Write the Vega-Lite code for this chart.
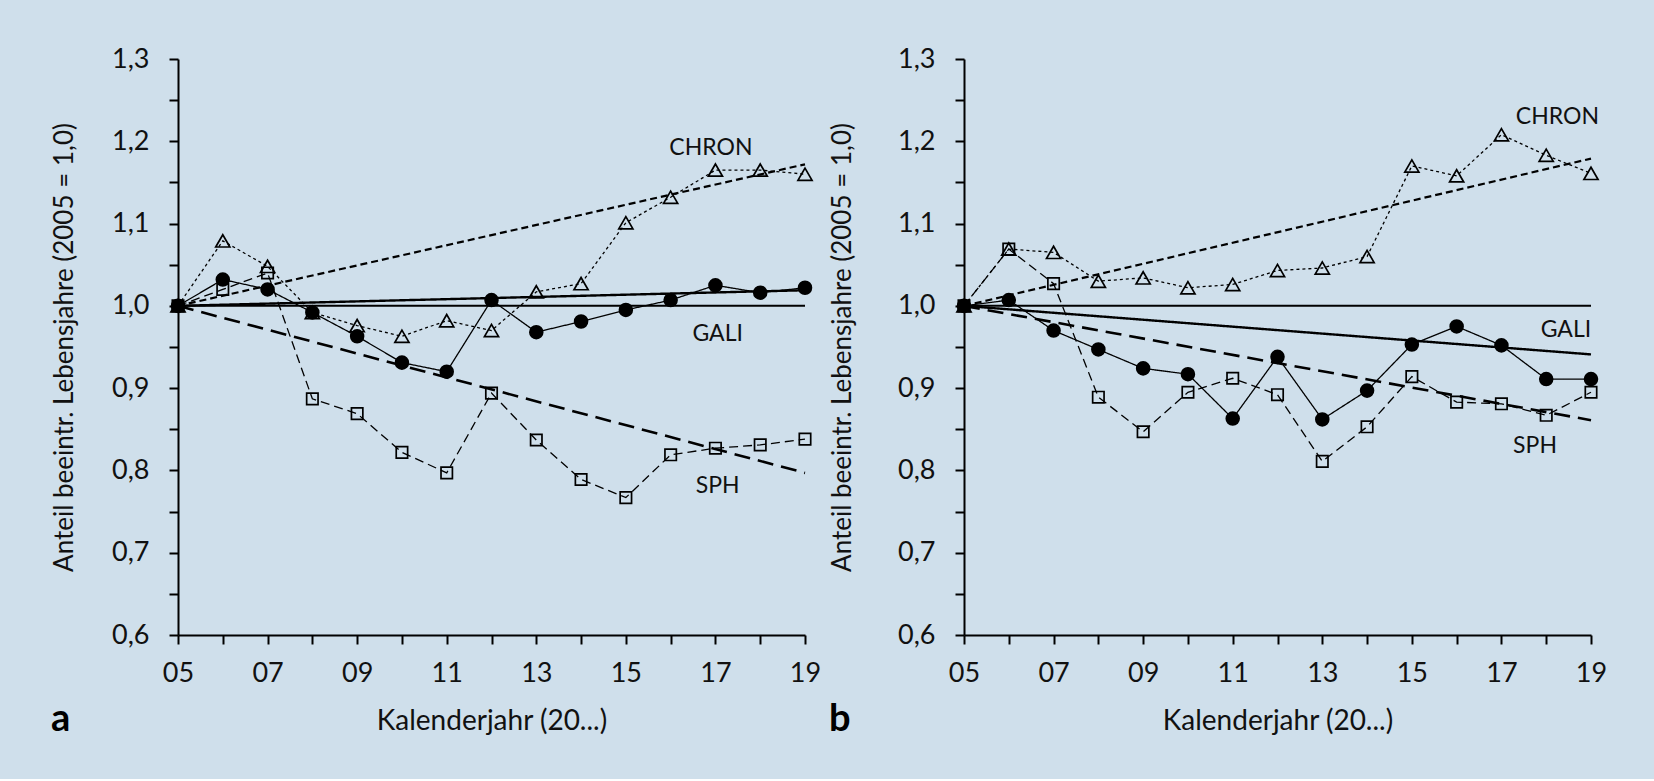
{
  "$schema": "https://vega.github.io/schema/vega-lite/v6.json",
  "background": "#cfdfeb",
  "padding": {"left": 51, "top": 45, "right": 48, "bottom": 40},
  "spacing": 8,
  "datasets": {
    "obs": [
      {"panel": "a", "serie": "GALI", "year": 5, "value": 1.0},
      {"panel": "a", "serie": "GALI", "year": 6, "value": 1.032},
      {"panel": "a", "serie": "GALI", "year": 7, "value": 1.02},
      {"panel": "a", "serie": "GALI", "year": 8, "value": 0.992},
      {"panel": "a", "serie": "GALI", "year": 9, "value": 0.963},
      {"panel": "a", "serie": "GALI", "year": 10, "value": 0.931},
      {"panel": "a", "serie": "GALI", "year": 11, "value": 0.92},
      {"panel": "a", "serie": "GALI", "year": 12, "value": 1.007},
      {"panel": "a", "serie": "GALI", "year": 13, "value": 0.968},
      {"panel": "a", "serie": "GALI", "year": 14, "value": 0.981},
      {"panel": "a", "serie": "GALI", "year": 15, "value": 0.995},
      {"panel": "a", "serie": "GALI", "year": 16, "value": 1.007},
      {"panel": "a", "serie": "GALI", "year": 17, "value": 1.025},
      {"panel": "a", "serie": "GALI", "year": 18, "value": 1.016},
      {"panel": "a", "serie": "GALI", "year": 19, "value": 1.022},
      {"panel": "a", "serie": "CHRON", "year": 5, "value": 1.0},
      {"panel": "a", "serie": "CHRON", "year": 6, "value": 1.079},
      {"panel": "a", "serie": "CHRON", "year": 7, "value": 1.048},
      {"panel": "a", "serie": "CHRON", "year": 8, "value": 0.992},
      {"panel": "a", "serie": "CHRON", "year": 9, "value": 0.976},
      {"panel": "a", "serie": "CHRON", "year": 10, "value": 0.963},
      {"panel": "a", "serie": "CHRON", "year": 11, "value": 0.982},
      {"panel": "a", "serie": "CHRON", "year": 12, "value": 0.97},
      {"panel": "a", "serie": "CHRON", "year": 13, "value": 1.017},
      {"panel": "a", "serie": "CHRON", "year": 14, "value": 1.027},
      {"panel": "a", "serie": "CHRON", "year": 15, "value": 1.101},
      {"panel": "a", "serie": "CHRON", "year": 16, "value": 1.132},
      {"panel": "a", "serie": "CHRON", "year": 17, "value": 1.165},
      {"panel": "a", "serie": "CHRON", "year": 18, "value": 1.165},
      {"panel": "a", "serie": "CHRON", "year": 19, "value": 1.16},
      {"panel": "a", "serie": "SPH", "year": 5, "value": 1.0},
      {"panel": "a", "serie": "SPH", "year": 6, "value": 1.02},
      {"panel": "a", "serie": "SPH", "year": 7, "value": 1.04},
      {"panel": "a", "serie": "SPH", "year": 8, "value": 0.887},
      {"panel": "a", "serie": "SPH", "year": 9, "value": 0.869},
      {"panel": "a", "serie": "SPH", "year": 10, "value": 0.822},
      {"panel": "a", "serie": "SPH", "year": 11, "value": 0.797},
      {"panel": "a", "serie": "SPH", "year": 12, "value": 0.894},
      {"panel": "a", "serie": "SPH", "year": 13, "value": 0.837},
      {"panel": "a", "serie": "SPH", "year": 14, "value": 0.789},
      {"panel": "a", "serie": "SPH", "year": 15, "value": 0.767},
      {"panel": "a", "serie": "SPH", "year": 16, "value": 0.819},
      {"panel": "a", "serie": "SPH", "year": 17, "value": 0.827},
      {"panel": "a", "serie": "SPH", "year": 18, "value": 0.831},
      {"panel": "a", "serie": "SPH", "year": 19, "value": 0.838},
      {"panel": "b", "serie": "GALI", "year": 5, "value": 1.0},
      {"panel": "b", "serie": "GALI", "year": 6, "value": 1.007},
      {"panel": "b", "serie": "GALI", "year": 7, "value": 0.97},
      {"panel": "b", "serie": "GALI", "year": 8, "value": 0.947},
      {"panel": "b", "serie": "GALI", "year": 9, "value": 0.924},
      {"panel": "b", "serie": "GALI", "year": 10, "value": 0.917},
      {"panel": "b", "serie": "GALI", "year": 11, "value": 0.863},
      {"panel": "b", "serie": "GALI", "year": 12, "value": 0.938},
      {"panel": "b", "serie": "GALI", "year": 13, "value": 0.862},
      {"panel": "b", "serie": "GALI", "year": 14, "value": 0.897},
      {"panel": "b", "serie": "GALI", "year": 15, "value": 0.953},
      {"panel": "b", "serie": "GALI", "year": 16, "value": 0.975},
      {"panel": "b", "serie": "GALI", "year": 17, "value": 0.952},
      {"panel": "b", "serie": "GALI", "year": 18, "value": 0.911},
      {"panel": "b", "serie": "GALI", "year": 19, "value": 0.911},
      {"panel": "b", "serie": "CHRON", "year": 5, "value": 1.0},
      {"panel": "b", "serie": "CHRON", "year": 6, "value": 1.069},
      {"panel": "b", "serie": "CHRON", "year": 7, "value": 1.065},
      {"panel": "b", "serie": "CHRON", "year": 8, "value": 1.03},
      {"panel": "b", "serie": "CHRON", "year": 9, "value": 1.034},
      {"panel": "b", "serie": "CHRON", "year": 10, "value": 1.022},
      {"panel": "b", "serie": "CHRON", "year": 11, "value": 1.026},
      {"panel": "b", "serie": "CHRON", "year": 12, "value": 1.043},
      {"panel": "b", "serie": "CHRON", "year": 13, "value": 1.046},
      {"panel": "b", "serie": "CHRON", "year": 14, "value": 1.06},
      {"panel": "b", "serie": "CHRON", "year": 15, "value": 1.17},
      {"panel": "b", "serie": "CHRON", "year": 16, "value": 1.158},
      {"panel": "b", "serie": "CHRON", "year": 17, "value": 1.208},
      {"panel": "b", "serie": "CHRON", "year": 18, "value": 1.183},
      {"panel": "b", "serie": "CHRON", "year": 19, "value": 1.161},
      {"panel": "b", "serie": "SPH", "year": 5, "value": 1.0},
      {"panel": "b", "serie": "SPH", "year": 6, "value": 1.069},
      {"panel": "b", "serie": "SPH", "year": 7, "value": 1.027},
      {"panel": "b", "serie": "SPH", "year": 8, "value": 0.889},
      {"panel": "b", "serie": "SPH", "year": 9, "value": 0.847},
      {"panel": "b", "serie": "SPH", "year": 10, "value": 0.895},
      {"panel": "b", "serie": "SPH", "year": 11, "value": 0.912},
      {"panel": "b", "serie": "SPH", "year": 12, "value": 0.892},
      {"panel": "b", "serie": "SPH", "year": 13, "value": 0.811},
      {"panel": "b", "serie": "SPH", "year": 14, "value": 0.853},
      {"panel": "b", "serie": "SPH", "year": 15, "value": 0.914},
      {"panel": "b", "serie": "SPH", "year": 16, "value": 0.883},
      {"panel": "b", "serie": "SPH", "year": 17, "value": 0.881},
      {"panel": "b", "serie": "SPH", "year": 18, "value": 0.867},
      {"panel": "b", "serie": "SPH", "year": 19, "value": 0.895}
    ],
    "trend": [
      {"panel": "a", "serie": "Referenz", "year": 5, "value": 1.0},
      {"panel": "a", "serie": "Referenz", "year": 19, "value": 1.0},
      {"panel": "a", "serie": "CHRON Trend", "year": 5, "value": 1.0},
      {"panel": "a", "serie": "CHRON Trend", "year": 19, "value": 1.172},
      {"panel": "a", "serie": "GALI Trend", "year": 5, "value": 1.0},
      {"panel": "a", "serie": "GALI Trend", "year": 19, "value": 1.019},
      {"panel": "a", "serie": "SPH Trend", "year": 5, "value": 1.0},
      {"panel": "a", "serie": "SPH Trend", "year": 19, "value": 0.797},
      {"panel": "b", "serie": "Referenz", "year": 5, "value": 1.0},
      {"panel": "b", "serie": "Referenz", "year": 19, "value": 1.0},
      {"panel": "b", "serie": "CHRON Trend", "year": 5, "value": 1.0},
      {"panel": "b", "serie": "CHRON Trend", "year": 19, "value": 1.179},
      {"panel": "b", "serie": "GALI Trend", "year": 5, "value": 1.0},
      {"panel": "b", "serie": "GALI Trend", "year": 19, "value": 0.941},
      {"panel": "b", "serie": "SPH Trend", "year": 5, "value": 1.0},
      {"panel": "b", "serie": "SPH Trend", "year": 19, "value": 0.861}
    ],
    "labels": [
      {"panel": "a", "label": "CHRON", "year": 16.9, "value": 1.192},
      {"panel": "a", "label": "GALI", "year": 17.05, "value": 0.966},
      {"panel": "a", "label": "SPH", "year": 17.05, "value": 0.781},
      {"panel": "b", "label": "CHRON", "year": 18.25, "value": 1.229},
      {"panel": "b", "label": "GALI", "year": 18.44, "value": 0.971},
      {"panel": "b", "label": "SPH", "year": 17.75, "value": 0.83}
    ]
  },
  "hconcat": [
    {
      "width": 627,
      "height": 576,
      "title": {"text": "a"},
      "encoding": {
        "x": {
          "field": "year",
          "type": "quantitative",
          "title": "Kalenderjahr (20...)",
          "scale": {"domain": [5, 19], "nice": false, "zero": false},
          "axis": {
            "values": [5, 6, 7, 8, 9, 10, 11, 12, 13, 14, 15, 16, 17, 18, 19],
            "labelExpr": "datum.value % 2 == 1 ? (datum.value < 10 ? '0' + datum.value : '' + datum.value) : ''",
            "labelOverlap": false,
            "labelFlush": false,
            "labelPadding": 16,
            "titleFontSize": 28,
            "titleX": 313.5,
            "titleY": 86,
            "titleBaseline": "middle"
          }
        },
        "y": {
          "field": "value",
          "type": "quantitative",
          "title": "Anteil beeintr. Lebensjahre (2005 = 1,0)",
          "scale": {"domain": [0.6, 1.3], "nice": false, "zero": false},
          "axis": {
            "values": [0.6, 0.65, 0.7, 0.75, 0.8, 0.85, 0.9, 0.95, 1.0, 1.05, 1.1, 1.15, 1.2, 1.25, 1.3],
            "labelExpr": "round(datum.value * 100) % 10 == 0 ? replace(format(datum.value, '.1f'), '.', ',') : ''",
            "labelOverlap": false,
            "labelPadding": 20,
            "titleFontSize": 26,
            "titleX": -114,
            "titleY": 288,
            "titleBaseline": "middle"
          }
        }
      },
      "layer": [
        {
          "data": {"name": "trend"},
          "transform": [{"filter": "datum.panel == 'a'"}],
          "mark": {"type": "line", "color": "black"},
          "encoding": {
            "strokeDash": {"field": "serie", "type": "nominal", "legend": null,
              "scale": {"domain": ["CHRON", "GALI", "SPH", "Referenz", "CHRON Trend", "GALI Trend", "SPH Trend"],
                        "range": [[3, 3], [1, 0], [9, 5], [1, 0], [7, 4], [1, 0], [16, 8]]}},
            "strokeWidth": {"field": "serie", "type": "nominal", "legend": null,
              "scale": {"domain": ["Referenz", "CHRON Trend", "GALI Trend", "SPH Trend"], "range": [2, 2.6, 2.6, 2.4]}}
          }
        },
        {
          "data": {"name": "obs"},
          "transform": [{"filter": "datum.panel == 'a'"}],
          "mark": {"type": "line", "color": "black", "strokeWidth": 1.3},
          "encoding": {
            "strokeDash": {"field": "serie", "type": "nominal", "legend": null,
              "scale": {"domain": ["CHRON", "GALI", "SPH", "Referenz", "CHRON Trend", "GALI Trend", "SPH Trend"],
                        "range": [[3, 3], [1, 0], [9, 5], [1, 0], [7, 4], [1, 0], [16, 8]]}}
          }
        },
        {
          "data": {"name": "obs"},
          "transform": [{"filter": "datum.panel == 'a'"}],
          "mark": {"type": "point", "opacity": 1, "stroke": "black", "strokeWidth": 1.7},
          "encoding": {
            "shape": {"field": "serie", "type": "nominal", "legend": null,
              "scale": {"domain": ["CHRON", "GALI", "SPH"], "range": ["triangle-up", "circle", "square"]}},
            "fill": {"field": "serie", "type": "nominal", "legend": null,
              "scale": {"domain": ["CHRON", "GALI", "SPH"], "range": ["transparent", "black", "transparent"]}},
            "size": {"field": "serie", "type": "nominal", "legend": null,
              "scale": {"domain": ["CHRON", "GALI", "SPH"], "range": [200, 130, 165]}}
          }
        },
        {
          "data": {"name": "labels"},
          "transform": [{"filter": "datum.panel == 'a'"}],
          "mark": {"type": "text", "font": "Lato", "fontSize": 23, "color": "#111", "align": "center", "baseline": "middle"},
          "encoding": {"text": {"field": "label"}}
        }
      ]
    },
    {
      "width": 627,
      "height": 576,
      "title": {"text": "b"},
      "encoding": {
        "x": {
          "field": "year",
          "type": "quantitative",
          "title": "Kalenderjahr (20...)",
          "scale": {"domain": [5, 19], "nice": false, "zero": false},
          "axis": {
            "values": [5, 6, 7, 8, 9, 10, 11, 12, 13, 14, 15, 16, 17, 18, 19],
            "labelExpr": "datum.value % 2 == 1 ? (datum.value < 10 ? '0' + datum.value : '' + datum.value) : ''",
            "labelOverlap": false,
            "labelFlush": false,
            "labelPadding": 16,
            "titleFontSize": 28,
            "titleX": 313.5,
            "titleY": 86,
            "titleBaseline": "middle"
          }
        },
        "y": {
          "field": "value",
          "type": "quantitative",
          "title": "Anteil beeintr. Lebensjahre (2005 = 1,0)",
          "scale": {"domain": [0.6, 1.3], "nice": false, "zero": false},
          "axis": {
            "values": [0.6, 0.65, 0.7, 0.75, 0.8, 0.85, 0.9, 0.95, 1.0, 1.05, 1.1, 1.15, 1.2, 1.25, 1.3],
            "labelExpr": "round(datum.value * 100) % 10 == 0 ? replace(format(datum.value, '.1f'), '.', ',') : ''",
            "labelOverlap": false,
            "labelPadding": 20,
            "titleFontSize": 26,
            "titleX": -122,
            "titleY": 288,
            "titleBaseline": "middle"
          }
        }
      },
      "layer": [
        {
          "data": {"name": "trend"},
          "transform": [{"filter": "datum.panel == 'b'"}],
          "mark": {"type": "line", "color": "black"},
          "encoding": {
            "strokeDash": {"field": "serie", "type": "nominal", "legend": null,
              "scale": {"domain": ["CHRON", "GALI", "SPH", "Referenz", "CHRON Trend", "GALI Trend", "SPH Trend"],
                        "range": [[3, 3], [1, 0], [9, 5], [1, 0], [7, 4], [1, 0], [16, 8]]}},
            "strokeWidth": {"field": "serie", "type": "nominal", "legend": null,
              "scale": {"domain": ["Referenz", "CHRON Trend", "GALI Trend", "SPH Trend"], "range": [2, 2.6, 2.6, 2.4]}}
          }
        },
        {
          "data": {"name": "obs"},
          "transform": [{"filter": "datum.panel == 'b'"}],
          "mark": {"type": "line", "color": "black", "strokeWidth": 1.3},
          "encoding": {
            "strokeDash": {"field": "serie", "type": "nominal", "legend": null,
              "scale": {"domain": ["CHRON", "GALI", "SPH", "Referenz", "CHRON Trend", "GALI Trend", "SPH Trend"],
                        "range": [[3, 3], [1, 0], [9, 5], [1, 0], [7, 4], [1, 0], [16, 8]]}}
          }
        },
        {
          "data": {"name": "obs"},
          "transform": [{"filter": "datum.panel == 'b'"}],
          "mark": {"type": "point", "opacity": 1, "stroke": "black", "strokeWidth": 1.7},
          "encoding": {
            "shape": {"field": "serie", "type": "nominal", "legend": null,
              "scale": {"domain": ["CHRON", "GALI", "SPH"], "range": ["triangle-up", "circle", "square"]}},
            "fill": {"field": "serie", "type": "nominal", "legend": null,
              "scale": {"domain": ["CHRON", "GALI", "SPH"], "range": ["transparent", "black", "transparent"]}},
            "size": {"field": "serie", "type": "nominal", "legend": null,
              "scale": {"domain": ["CHRON", "GALI", "SPH"], "range": [200, 130, 165]}}
          }
        },
        {
          "data": {"name": "labels"},
          "transform": [{"filter": "datum.panel == 'b'"}],
          "mark": {"type": "text", "font": "Lato", "fontSize": 23, "color": "#111", "align": "center", "baseline": "middle"},
          "encoding": {"text": {"field": "label"}}
        }
      ]
    }
  ],
  "config": {
    "view": {"stroke": null},
    "font": "Lato",
    "axis": {
      "grid": false,
      "domainColor": "black",
      "domainWidth": 2,
      "tickColor": "black",
      "tickWidth": 2,
      "tickSize": 9,
      "labelFont": "Lato",
      "labelFontSize": 27,
      "labelColor": "#111",
      "titleFont": "Lato",
      "titleFontWeight": "normal",
      "titleColor": "#111"
    },
    "title": {
      "orient": "bottom",
      "anchor": "start",
      "frame": "bounds",
      "font": "Lato",
      "fontSize": 38,
      "fontWeight": "bold",
      "color": "black",
      "baseline": "alphabetic",
      "offset": -34
    }
  }
}
